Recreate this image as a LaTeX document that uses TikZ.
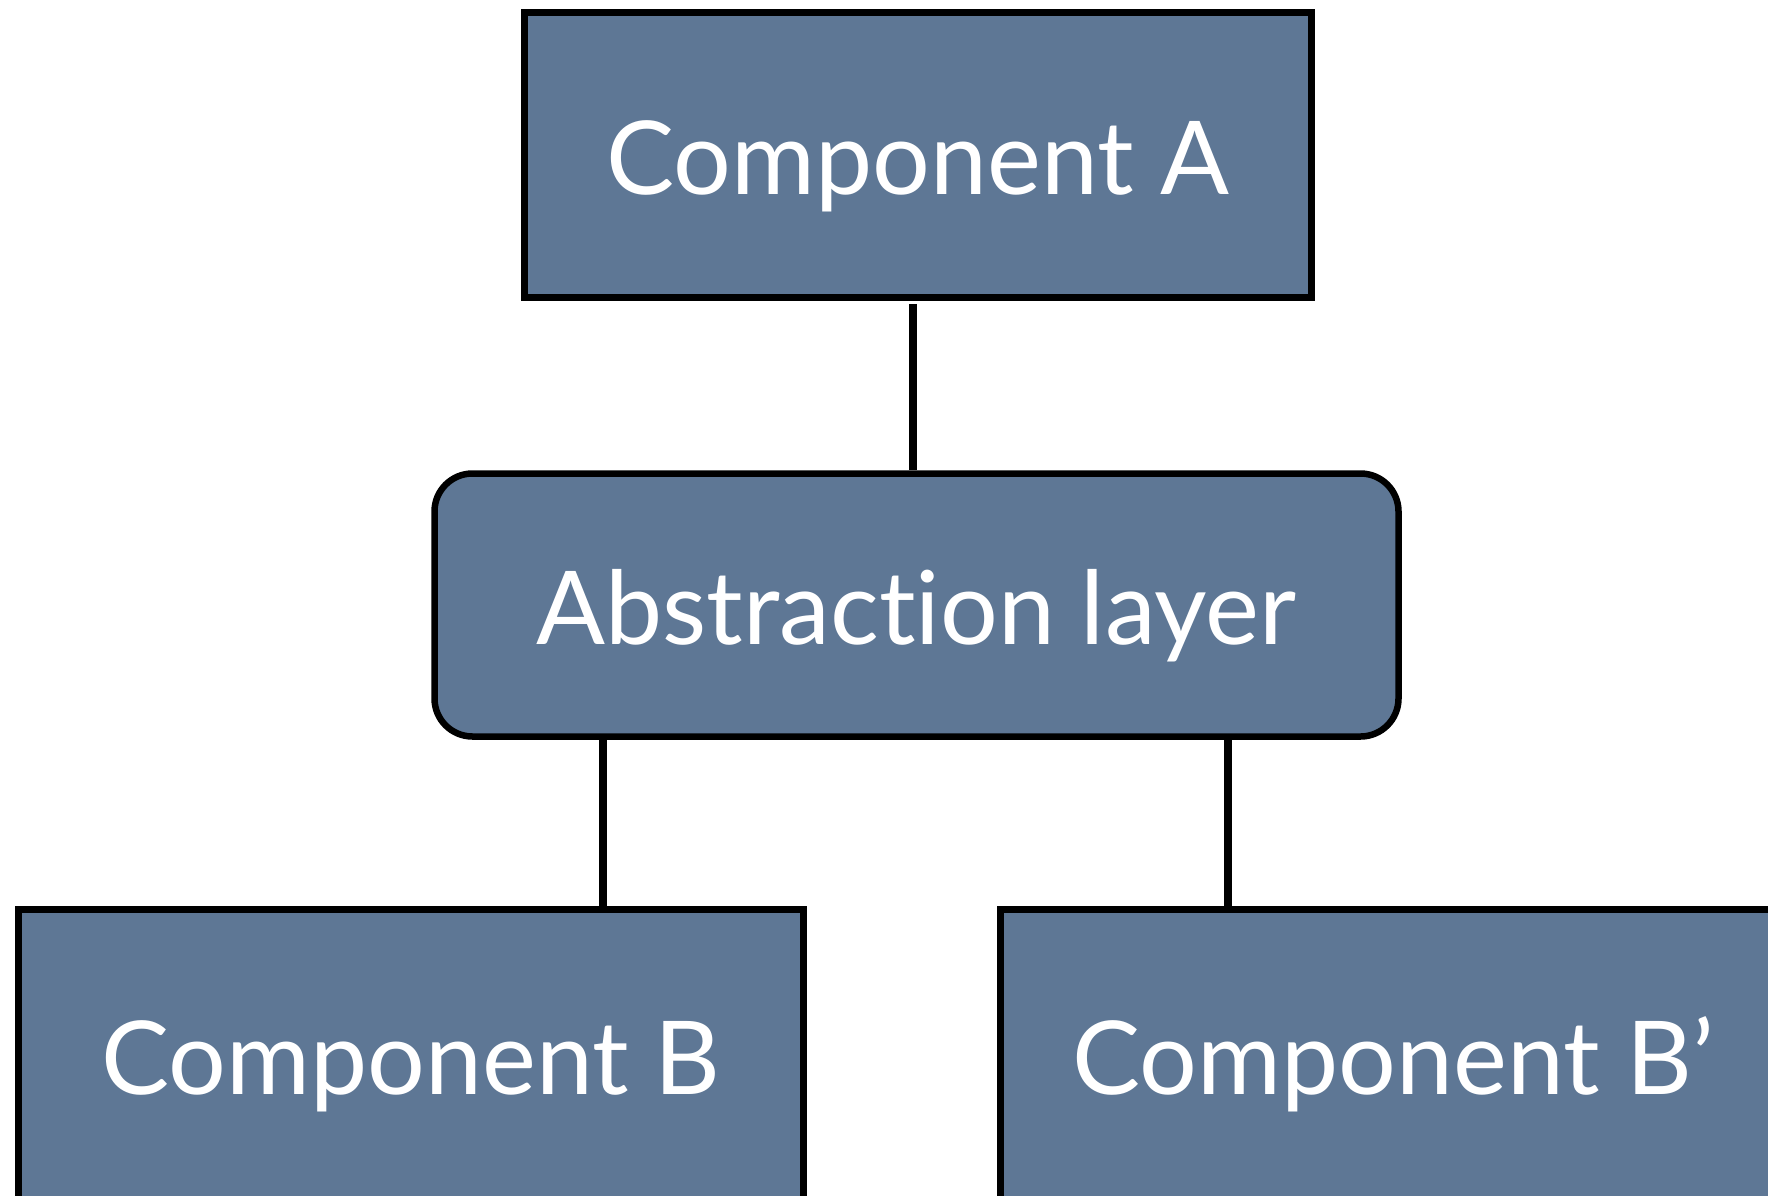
\documentclass[tikz,border=0pt]{standalone}
\usepackage{fontspec}
\setmainfont{Lato}[Ligatures=NoCommon]
\definecolor{boxfill}{RGB}{94,119,149}
\tikzset{
  compbox/.style={draw=black, line width=6.5pt, fill=boxfill, rectangle,
    minimum width=785pt, minimum height=285pt, inner sep=0pt,
    text=white, font=\fontsize{102}{110}\selectfont,
    text height=79pt, text depth=0pt},
  layerbox/.style={compbox, rounded corners=38pt, minimum width=964pt, minimum height=263pt},
  link/.style={draw=black, line width=8pt}
}
\begin{document}
\begin{tikzpicture}[x=1pt,y=-1pt]
\useasboundingbox (0,0) rectangle (1768,1195);
\clip (0,0) rectangle (1768,1195);
\fill[white] (0,0) rectangle (1768,1195);
\node[compbox, minimum width=787pt] (A) at (918,155) {Component A};
\node[layerbox] (L) at (916.5,605) {Abstraction layer};
\node[compbox, minimum height=290pt] (B) at (411,1054.5) {Component B};
\node[compbox, minimum height=290pt] (Bp) at (1393,1054.5) {Component B’};
\draw[link, shorten <=3pt] (A.south -| 912.5,0) -- (L.north -| 912.5,0);
\draw[link] (L.south -| 602.5,0) -- (B.north -| 602.5,0);
\draw[link] (L.south -| 1227.5,0) -- (Bp.north -| 1227.5,0);
\end{tikzpicture}
\end{document}
